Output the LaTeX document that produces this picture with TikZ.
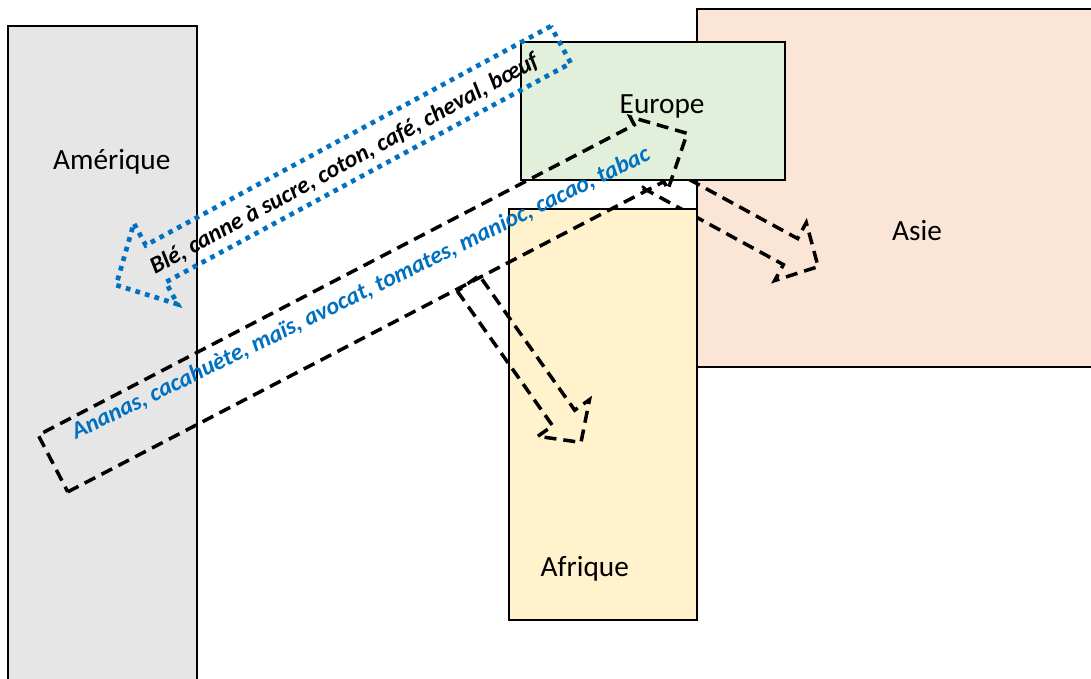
\documentclass[tikz,border=0pt]{standalone}
\usepackage{fontspec}
\setmainfont{Carlito}
\usepackage{tikz}

\definecolor{gris}{HTML}{E6E6E6}
\definecolor{vert}{HTML}{E2EFDA}
\definecolor{saumon}{HTML}{FBE5D6}
\definecolor{jaune}{HTML}{FFF2CC}
\definecolor{bleu}{HTML}{0070C0}

\begin{document}
\begin{tikzpicture}[x=1pt,y=1pt,
	boite/.style={draw=black,line width=2pt,inner sep=0pt,outer sep=0pt,anchor=north west},
	etiquette/.style={font=\fontsize{29.3}{35}\selectfont,anchor=base west,inner sep=0pt},
	produits/.style={font=\fontsize{24}{29}\selectfont\bfseries\itshape,anchor=base west,inner sep=0pt},
	tiret/.style={draw=black,line width=3.5pt,dash pattern=on 12pt off 7pt},
	pointille/.style={draw=bleu,line width=4.7pt,dash pattern=on 4.7pt off 5.3pt},
	pics/fleche/.style args={#1/#2/#3/#4}{code={
		\path[pic actions] (0,-#3) -- (#1-#2,-#3) -- (#1-#2,-#4) -- (#1,0)
			-- (#1-#2,#4) -- (#1-#2,#3) -- (0,#3) -- cycle;}}]

\useasboundingbox (0,0) rectangle (1091,678);

\node[boite,fill=gris,minimum width=189,minimum height=672] (amerique) at (8,652) {};
\node[etiquette] (tamerique) at (53,508) {Amérique};

\node[boite,fill=saumon,minimum width=403,minimum height=358] (asie) at (697,669) {};
\node[etiquette] (tasie) at (892,437) {Asie};
\pic[tiret,rotate=-28.6] (versasie) at (650,503) {fleche=191.5/31.5/14.85/33};

\node[boite,fill=vert,minimum width=264,minimum height=138] (europe) at (521,636) {};
\node[etiquette] (teurope) at (619.5,564.5) {Europe};

\node[boite,fill=jaune,minimum width=188,minimum height=411] (afrique) at (509,469) {};
\node[etiquette] (tafrique) at (540.5,102) {Afrique};
\pic[tiret,rotate=-54.7] (versafrique) at (468.3,394.7) {fleche=195/30/13.5/31.7};

\pic[tiret,rotate=27.5] (verseurope) at (53,214.5) {fleche=715/43/32/41};
\node[produits,text=bleu,rotate=26] (nouveau) at (76,238)
	{Ananas, cacahuète, maïs, avocat, tomates, manioc, cacao, tabac};

\pic[pointille,rotate=208.4] (versamerique) at (560.8,633.3) {fleche=505.5/45/21/46};
\node[produits,rotate=28.5] (ancien) at (155,403)
	{Blé, canne à sucre, coton, café, cheval, bœuf};

\end{tikzpicture}
\end{document}
